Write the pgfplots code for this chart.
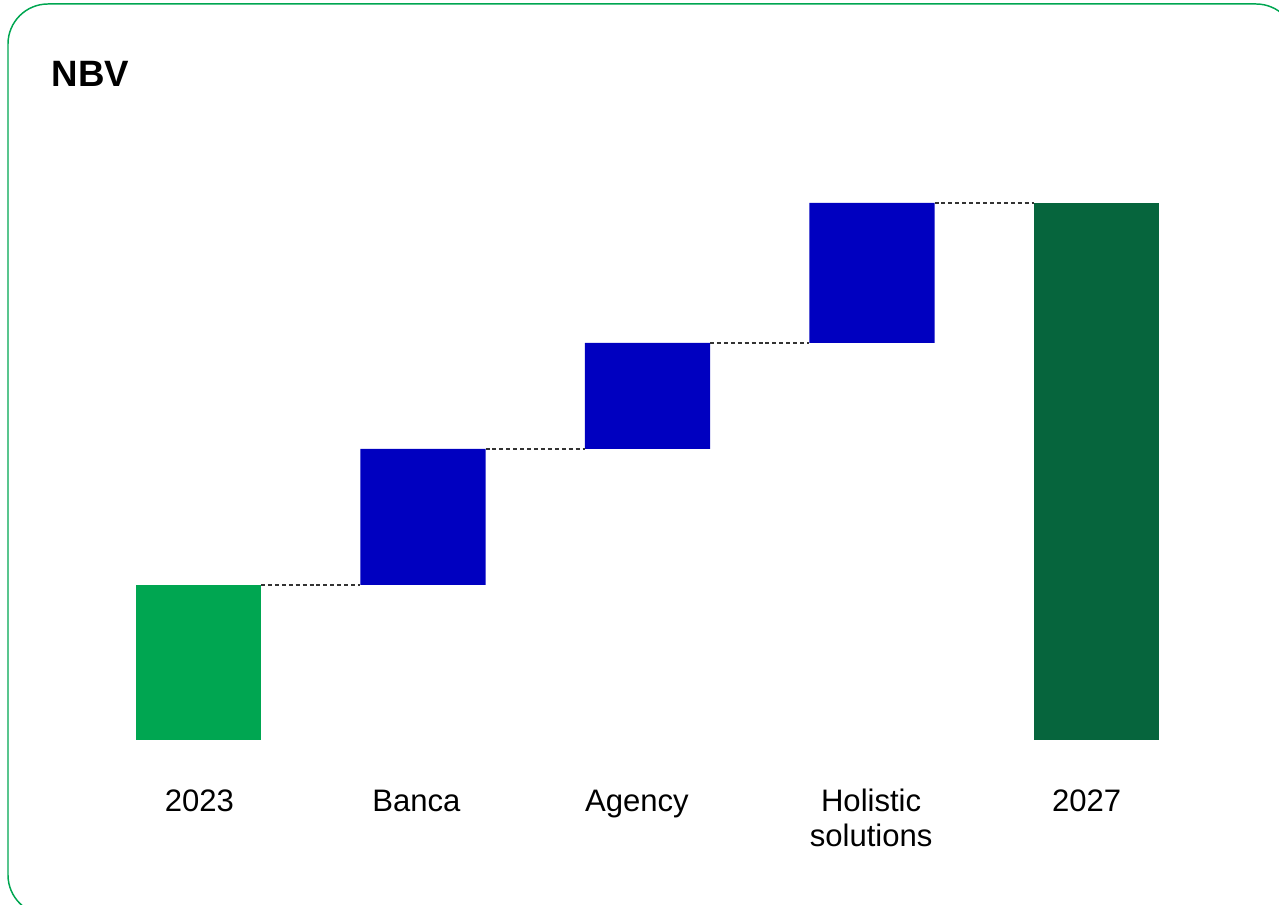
\documentclass[border=0pt]{standalone}
\usepackage{pgfplots}
\pgfplotsset{compat=1.18}
\usepackage{fontspec}
\setmainfont{Liberation Sans}
\definecolor{lgreen}{HTML}{00A651}
\definecolor{nblue}{HTML}{0000C0}
\definecolor{dgreen}{HTML}{06653D}
\definecolor{framegreen}{HTML}{00A651}
\definecolor{conn}{HTML}{333333}
\newcommand{\holistic}{\vtop{\baselineskip=26.25pt\halign{\hfil##\hfil\cr Holistic\cr solutions\cr}}}
\begin{document}
\begin{tikzpicture}[x=0.75pt,y=0.75pt]
\useasboundingbox (0,0) rectangle (1279,905);
\clip (0,0) rectangle (1279,905);
\draw[framegreen, line width=1.1pt, rounded corners=30pt] (8,-10) rectangle (1296,901);
\node[anchor=base west, font=\bfseries\fontsize{27.5}{33}\selectfont, inner sep=0] at (51.5,818.5) {NBV};
\begin{axis}[
  at={(64.6875pt,123.75pt)}, anchor=south west,
  scale only axis, width=841.875pt, height=450pt,
  xmin=-0.5, xmax=4.5, ymin=0, ymax=600,
  clip=false,
  ybar stacked, bar width=0.557,
  axis x line*=bottom, axis y line=none,
  x axis line style={draw=none},
  major tick length=0pt,
  xtick={0.004,0.971,1.953,2.996,3.956},
  xticklabels={2023,Banca,Agency,\holistic,2027},
  xticklabel style={font=\fontsize{23.3}{26.25}\selectfont, anchor=base, yshift=-54pt},
]
\addplot[draw=none, fill=none] coordinates {(0,0) (1,155) (2,291) (3,397) (4,0)};
\addplot[fill=lgreen, draw=none] coordinates {(0,155) (1,0) (2,0) (3,0) (4,0)};
\addplot[fill=nblue, draw=none] coordinates {(0,0) (1,136) (2,106) (3,140) (4,0)};
\addplot[fill=dgreen, draw=none] coordinates {(0,0) (1,0) (2,0) (3,0) (4,537)};
\end{axis}
\begin{axis}[
  at={(64.6875pt,123.75pt)}, anchor=south west,
  scale only axis, width=841.875pt, height=450pt,
  xmin=-0.5, xmax=4.5, ymin=0, ymax=600,
  clip=false, hide axis,
]
\addplot[conn, line width=0.8pt, dash pattern=on 3pt off 2.2pt] coordinates {(0.2785,155) (0.7215,155)};
\addplot[conn, line width=0.8pt, dash pattern=on 3pt off 2.2pt] coordinates {(1.2785,291) (1.7215,291)};
\addplot[conn, line width=0.8pt, dash pattern=on 3pt off 2.2pt] coordinates {(2.2785,397) (2.7215,397)};
\addplot[conn, line width=0.8pt, dash pattern=on 3pt off 2.2pt] coordinates {(3.2785,537) (3.7215,537)};
\end{axis}
\end{tikzpicture}
\end{document}
